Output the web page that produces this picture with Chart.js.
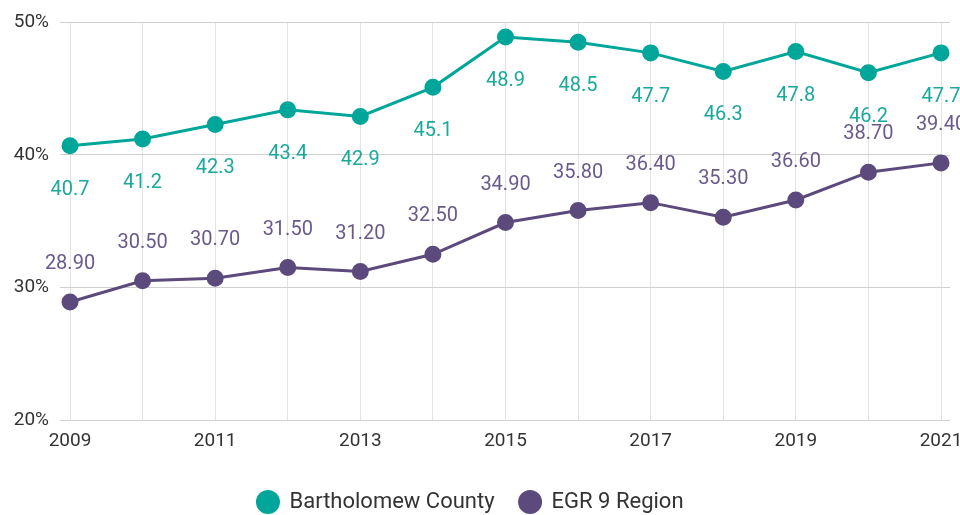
<!DOCTYPE html>
<html>
<head>
<meta charset="utf-8">
<script src="https://cdn.jsdelivr.net/npm/chart.js@4"></script>
<style>
  html, body { margin: 0; padding: 0; background: #fff; }
  #wrap { width: 960px; height: 515px; }
</style>
</head>
<body>
<div id="wrap"><canvas id="lineChart"></canvas></div>
<script>
const years = ['2009', '2010', '2011', '2012', '2013', '2014', '2015', '2016', '2017', '2018', '2019', '2020', '2021'];
const bartholomew = [40.7, 41.2, 42.3, 43.4, 42.9, 45.1, 48.9, 48.5, 47.7, 46.3, 47.8, 46.2, 47.7];
const egr9 = [28.9, 30.5, 30.7, 31.5, 31.2, 32.5, 34.9, 35.8, 36.4, 35.3, 36.6, 38.7, 39.4];
const yTicks = [20, 30, 40, 50];

const teal = '#00a699';
const purple = '#5c4a7d';

// horizontal grid runs a bit past the last year
const gridTail = {
  id: 'gridTail',
  beforeDatasetsDraw(chart) {
    const { ctx, chartArea, scales } = chart;
    ctx.save();
    ctx.strokeStyle = '#d0d0d0';
    ctx.lineWidth = 1;
    yTicks.forEach(v => {
      const y = Math.round(scales.y.getPixelForValue(v)) + 0.5;
      ctx.beginPath();
      ctx.moveTo(chartArea.right, y);
      ctx.lineTo(chartArea.right + 9, y);
      ctx.stroke();
    });
    ctx.restore();
  }
};

// simple value labels, teal under the points, purple over them
const valueLabels = {
  id: 'valueLabels',
  afterDatasetsDraw(chart) {
    const ctx = chart.ctx;
    ctx.save();
    ctx.font = '20px Roboto';
    ctx.textAlign = 'center';
    ctx.textBaseline = 'middle';
    chart.data.datasets.forEach((ds, i) => {
      const meta = chart.getDatasetMeta(i);
      meta.data.forEach((pt, j) => {
        const v = ds.data[j];
        ctx.fillStyle = ds.labelColor;
        ctx.fillText(v.toFixed(ds.decimals), pt.x, pt.y + ds.labelOffset);
      });
    });
    ctx.restore();
  }
};

const ctx = document.getElementById('lineChart').getContext('2d');
const lineChart = new Chart(ctx, {
  type: 'line',
  data: {
    labels: years,
    datasets: [{
      label: 'Bartholomew County',
      data: bartholomew,
      borderColor: teal,
      backgroundColor: teal,
      borderWidth: 3,
      pointRadius: 7,
      pointHoverRadius: 7,
      labelColor: '#1aa99c',
      labelOffset: 44,
      decimals: 1
    }, {
      label: 'EGR 9 Region',
      data: egr9,
      borderColor: purple,
      backgroundColor: purple,
      borderWidth: 3,
      pointRadius: 7,
      pointHoverRadius: 7,
      labelColor: '#6a5a8b',
      labelOffset: -38,
      decimals: 2
    }]
  },
  options: {
    responsive: true,
    maintainAspectRatio: false,
    animation: false,
    layout: { padding: { top: 17, right: 19, left: 0, bottom: -8 } },
    scales: {
      x: {
        grid: { color: '#e3e3e3', drawTicks: false },
        border: { display: false },
        afterFit: (axis) => { axis.height = 46; axis.paddingLeft = 0; axis.paddingRight = 0; },
        ticks: {
          autoSkip: false,
          maxRotation: 0,
          padding: 10,
          color: '#333',
          font: { family: 'Roboto', size: 19 },
          callback: function (val, idx) { return idx % 2 === 0 ? this.getLabelForValue(val) : ''; }
        }
      },
      y: {
        min: 20,
        max: 50,
        afterBuildTicks: (axis) => { axis.ticks = yTicks.map(v => ({ value: v })); },
        afterFit: (axis) => { axis.width = 70; },
        grid: { color: '#d0d0d0', tickLength: 10 },
        border: { display: false },
        ticks: {
          padding: 11,
          color: '#333',
          font: { family: 'Roboto', size: 19 },
          callback: (v) => v + '%'
        }
      }
    },
    plugins: {
      legend: {
        position: 'bottom',
        labels: {
          usePointStyle: true,
          pointStyle: 'circle',
          boxHeight: 14.8,
          pointStyleWidth: 21,
          padding: 25,
          color: '#333',
          font: { family: 'Roboto', size: 22 }
        }
      },
      tooltip: { enabled: false },
      title: { display: false }
    }
  },
  plugins: [gridTail, valueLabels]
});
</script>
</body>
</html>
